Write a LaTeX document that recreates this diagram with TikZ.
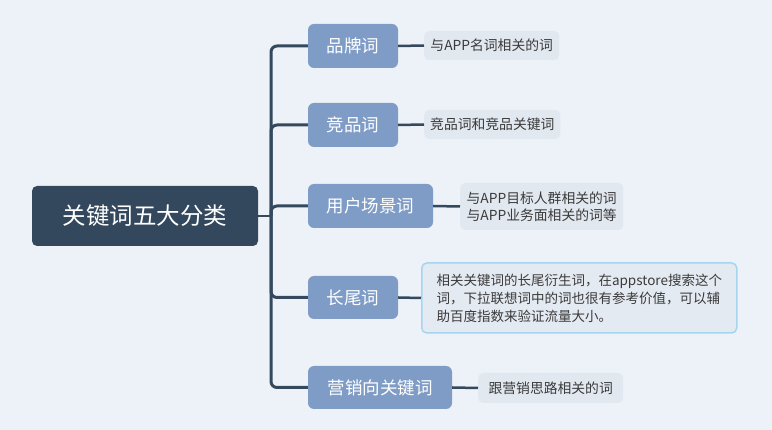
\documentclass[tikz,border=0pt]{standalone}
\usepackage{fontspec}
\setmainfont{Noto Sans CJK SC}
\definecolor{bgc}{HTML}{EDF2F8}
\definecolor{rootc}{HTML}{33475D}
\definecolor{branchc}{HTML}{7F9CC6}
\definecolor{linec}{HTML}{34495E}
\definecolor{leafc}{HTML}{E2E8F0}
\definecolor{leaftext}{HTML}{3A3A3A}
\definecolor{hlborder}{HTML}{A6D6EF}
\tikzset{
  rootbox/.style={fill=rootc, rounded corners=5pt, text=white, font=\fontsize{23.5}{27}\selectfont, minimum width=226pt, minimum height=60pt, inner sep=0pt},
  branchbox/.style={fill=branchc, rounded corners=6pt, text=white, font=\fontsize{17.5}{20}\selectfont, minimum height=44pt, inner sep=0pt},
  leafbox/.style={fill=leafc, rounded corners=5pt, text=leaftext, font=\fontsize{13.8}{17}\selectfont, anchor=west, inner xsep=6pt, inner ysep=0pt, align=left},
  trunk/.style={draw=linec, line width=3pt, rounded corners=6pt},
  twig/.style={draw=linec, line width=2.5pt},
}
\begin{document}
\begin{tikzpicture}[x=1pt,y=-1pt]
\fill[bgc] (0,0) rectangle (772,430);
\useasboundingbox (0,0) rectangle (772,430);
\node[rootbox] (root) at (145,216) {关键词五大分类};
\node[branchbox, minimum width=90pt] (b1) at (353,46) {品牌词};
\node[branchbox, minimum width=90pt] (b2) at (353,125) {竞品词};
\node[branchbox, minimum width=125pt] (b3) at (370.5,206) {用户场景词};
\node[branchbox, minimum width=90pt, minimum height=43pt] (b4) at (353,297.5) {长尾词};
\node[branchbox, minimum width=144pt, minimum height=43pt] (b5) at (380,387.5) {营销向关键词};
\coordinate (j) at (271,216);
\draw[twig] (root.east) -- (j);
\foreach \b in {b1,b2,b3,b4,b5} {\draw[trunk] (j) |- (\b.west);}
\node[leafbox, minimum height=29pt, minimum width=135pt] (l1) at (424,45.5) {与APP名词相关的词};
\node[leafbox, minimum height=29pt, minimum width=136pt] (l2) at (424,124.5) {竞品词和竞品关键词};
\node[leafbox, minimum height=47pt, minimum width=163pt] (l3) at (460,206.5) {与APP目标人群相关的词\\与APP业务面相关的词等};
\node[leafbox, minimum height=70pt, minimum width=315pt, draw=hlborder, line width=1.5pt, fill=leafc!80!bgc, font=\fontsize{13.5}{18}\selectfont, inner xsep=8pt] (l4) at (421,298) {相关关键词的长尾衍生词，在appstore搜索这个\\词，下拉联想词中的词也很有参考价值，可以辅\\助百度指数来验证流量大小。};
\node[leafbox, minimum height=30pt, minimum width=145pt] (l5) at (478,388) {跟营销思路相关的词};
\draw[twig] (b1.east) -- (l1.west);
\draw[twig] (b2.east) -- (l2.west);
\draw[twig] (b3.east) -- (l3.west);
\draw[twig] (b4.east) -- (l4.west);
\draw[twig] (b5.east) -- (l5.west);
\end{tikzpicture}
\end{document}
